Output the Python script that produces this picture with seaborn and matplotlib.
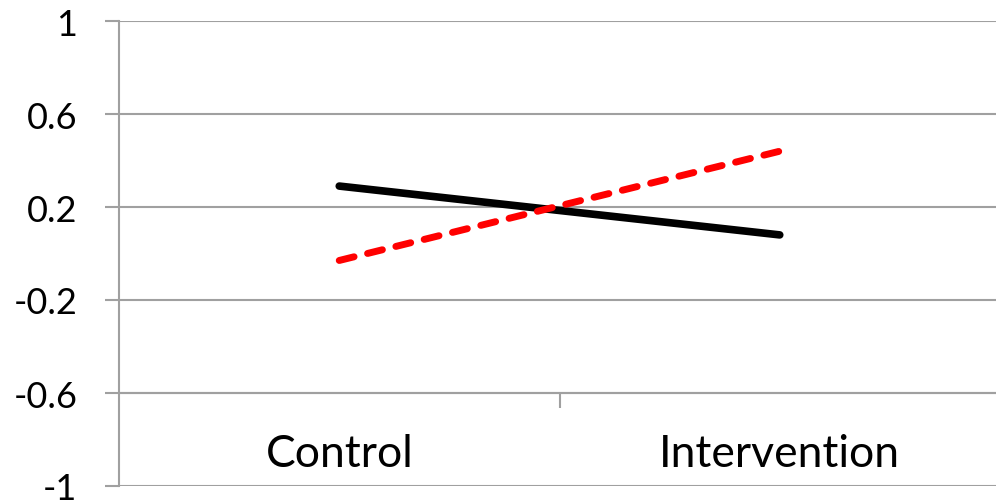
import matplotlib
matplotlib.use("Agg")
import matplotlib.pyplot as plt
import seaborn as sns
import pandas as pd
from matplotlib.ticker import FixedLocator

categories = ["Control", "Intervention"]
series_names = ["Series A", "Series B"]
series_a = [0.29, 0.08]
series_b = [-0.03, 0.44]
yticks = [-1, -0.6, -0.2, 0.2, 0.6, 1]
ytick_labels = ["-1", "-0.6", "-0.2", "0.2", "0.6", "1"]

df = pd.DataFrame({
    "category": categories * 2,
    "value": series_a + series_b,
    "series": [series_names[0]] * 2 + [series_names[1]] * 2,
})

sns.set_theme(style="white")
plt.rcParams["font.family"] = ["Lato", "DejaVu Sans"]

fig = plt.figure(figsize=(9.96, 5.02), dpi=100)
ax = fig.add_axes([119 / 996, 1 - 487 / 502, (1000 - 119) / 996, (487 - 22) / 502])

grid_color = "#a0a0a0"
for y in yticks:
    ax.axhline(y, color=grid_color, lw=1.5, zorder=0)

sns.lineplot(
    data=df, x="category", y="value", hue="series", style="series",
    palette={series_names[0]: "black", series_names[1]: "#ff0000"},
    dashes={series_names[0]: "", series_names[1]: (2.2, 2.0)},
    linewidth=5.5, legend=False, ax=ax, sort=False,
)
for ln in ax.get_lines():
    ln.set_solid_capstyle("round")
    ln.set_dash_capstyle("round")
ax.get_lines()[-1].set_linewidth(5.0)

ax.set_xlim(-0.5, 1.5)
ax.set_ylim(-1, 1)
ax.set_yticks(yticks)
ax.set_yticklabels(ytick_labels)
ax.set_xlabel("")
ax.set_ylabel("")

for s in ["top", "right"]:
    ax.spines[s].set_visible(False)
ax.spines["left"].set_color(grid_color)
ax.spines["left"].set_linewidth(1.5)
ax.spines["bottom"].set_position(("data", -0.6))
ax.spines["bottom"].set_color(grid_color)
ax.spines["bottom"].set_linewidth(1.5)

ax.tick_params(axis="y", which="major", length=10, width=1.5, color=grid_color,
               direction="out", left=True, pad=20, labelsize=26, labelcolor="black")
ax.set_xticks([0, 1])
ax.set_xticklabels(categories)
ax.tick_params(axis="x", which="major", length=0, pad=29, labelsize=32, labelcolor="black")
ax.xaxis.set_minor_locator(FixedLocator([0.5]))
ax.tick_params(axis="x", which="minor", bottom=True, length=11, width=1.5,
               color=grid_color, direction="out")

fig.savefig("out.png", dpi=100)
